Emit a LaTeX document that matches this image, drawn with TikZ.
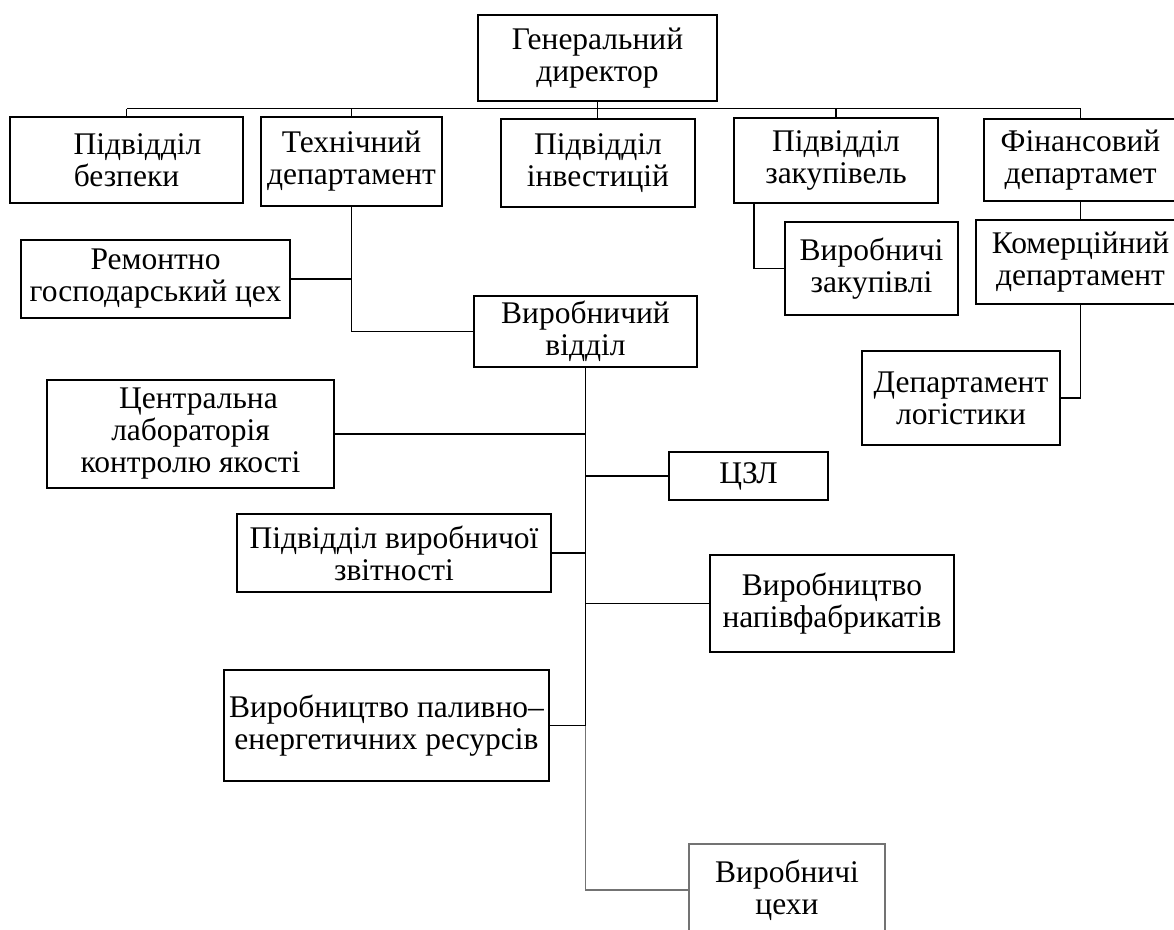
\documentclass[tikz,border=0pt]{standalone}
\usepackage{fontspec}
\setmainfont{Liberation Serif}
\begin{document}
\begin{tikzpicture}[x=1pt,y=-1pt,
  box/.style={draw, line width=1.6pt, align=center, inner sep=0pt,
    font=\fontsize{31.5}{32}\selectfont},
  link/.style={line width=1.6pt},
  faint/.style={line width=1.2pt, draw=black!55}]
\useasboundingbox (0,0) rectangle (1174,929);
% top level
\node[box, minimum width=239, minimum height=86] (dir) at (597.5,58) {Генеральний\\директор};
\node[box, minimum width=233, minimum height=86] (bez) at (126.5,160) {\hspace*{22pt}Підвідділ\\безпеки};
\node[box, minimum width=181, minimum height=89] (tech) at (351.5,161.5) {Технічний\\департамент};
\node[box, minimum width=194, minimum height=88] (inv) at (598,163) {Підвідділ\\інвестицій};
\node[box, minimum width=204, minimum height=85] (zak) at (836,160.5) {Підвідділ\\закупівель};
\node[box, minimum width=193, minimum height=82] (fin) at (1080.5,160) {Фінансовий\\департамет};
% second level
\node[box, minimum width=173, minimum height=93] (vzak) at (871.5,268.5) {Виробничі\\закупівлі};
\node[box, minimum width=209, minimum height=84] (kom) at (1080.5,262) {Комерційний\\департамент};
\node[box, minimum width=198, minimum height=94] (log) at (961,398) {Департамент\\логістики};
\node[box, minimum width=269, minimum height=78] (rem) at (155.5,279) {Ремонтно\\господарський цех};
\node[box, minimum width=223, minimum height=71] (vv) at (585.5,331.5) {Виробничий\\відділ};
% production branch
\node[box, minimum width=287, minimum height=108] (lab) at (190.5,434) {\hspace*{16pt}Центральна\\лабораторія\\контролю якості};
\node[box, minimum width=159, minimum height=48] (czl) at (748.5,476) {ЦЗЛ};
\node[box, minimum width=314, minimum height=78] (zvit) at (394,553) {Підвідділ виробничої\\звітності};
\node[box, minimum width=244, minimum height=97] (napiv) at (832,603.5) {Виробництво\\напівфабрикатів};
\node[box, minimum width=325, minimum height=111] (pal) at (386.5,725.5) {Виробництво паливно–\\енергетичних ресурсів};
\node[box, faint, minimum width=196, minimum height=92] (cehy) at (787,890) {Виробничі\\цехи};
% bus
\coordinate (busL) at (126.5,108.5);
\coordinate (busR) at (1080.5,108.5);
\draw[link] (busL) -- (busR);
\draw[link] (dir.south) -- (dir.south |- inv.north);
\draw[link] (bez.north) -- (bez.north |- busL);
\draw[link] (tech.north) -- (tech.north |- busL);
\draw[link] (zak.north) -- (zak.north |- busL);
\draw[link] (fin.north) -- (fin.north |- busL);
% technical
\draw[link] (tech.south) |- (vv.west);
\draw[link] (rem.east) -- (rem.east -| tech.south);
% purchasing
\draw[link] ([xshift=20.6pt]zak.south west) |- (vzak.west);
% finance
\draw[link] (fin.south) -- (kom.north);
\draw[link] (kom.south) |- (log.east);
% production spine
\coordinate (spineE) at (vv.south |- pal.east);
\draw[link] (vv.south) -- (spineE);
\draw[faint] (spineE) |- (cehy.west);
\draw[link] (lab.east) -- (lab.east -| vv.south);
\draw[link] (czl.west) -- (czl.west -| vv.south);
\draw[link] (zvit.east) -- (zvit.east -| vv.south);
\draw[link] (napiv.west) -- (napiv.west -| vv.south);
\draw[link] (pal.east) -- (spineE);
\end{tikzpicture}
\end{document}
